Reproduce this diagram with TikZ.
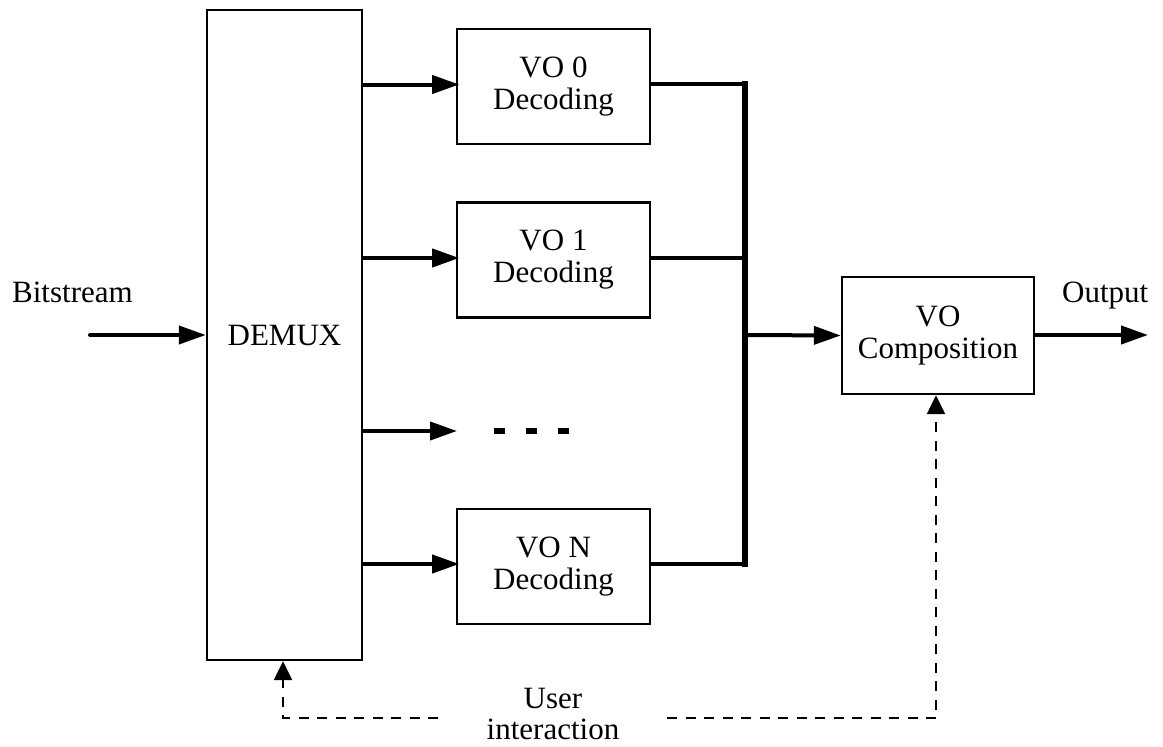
\documentclass[tikz,border=0pt]{standalone}
\usepackage{fontspec}
\setmainfont{Liberation Serif}
\usetikzlibrary{arrows.meta}
\begin{document}
\begin{tikzpicture}[x=1pt,y=-1pt,
  every node/.style={font=\fontsize{31}{32}\selectfont, inner sep=0pt},
  blk/.style={draw, line width=2.4pt, minimum width=193pt, minimum height=115pt, align=center},
  arr/.style={line width=4pt, line cap=round, -{Triangle[length=27pt,width=18pt]}},
  link/.style={line width=4pt, line cap=round},
  bus/.style={line width=5.5pt},
  fb/.style={line width=2.4pt, dash pattern=on 10pt off 8.5pt, -{Triangle[length=19pt,width=18pt]}},
  lbl/.style={anchor=base, align=center}]
\useasboundingbox (0,0) rectangle (1163,747);
% blocks
\node[draw, line width=2.4pt, minimum width=155pt, minimum height=650pt] (demux) at (284.5,335) {DEMUX};
\node[blk] (vo0) at (553.5,86.5) {VO 0\\Decoding};
\node[blk] (vo1) at (553.5,260) {VO 1\\Decoding};
\node[blk] (von) at (553.5,566.5) {VO N\\Decoding};
\node[blk, minimum width=192pt, minimum height=117pt] (comp) at (938,335.5) {VO\\Composition};
% labels
\node[lbl, anchor=base west] (bits) at (12,302) {Bitstream};
\node[lbl, anchor=base west] (out) at (1062,302) {Output};
\node[lbl] (user) at (553,708) {User};
\node[lbl] (inter) at (553,739) {interaction};
% coordinates
\coordinate (bin) at (90,335);
\coordinate (oend) at (1148,335);
\coordinate (bustop) at (745,84);
\coordinate (busbot) at (745,564);
\coordinate (busmid) at (745,335);
\coordinate (dotsin) at (457,431);
\coordinate (fbl) at (438,718);
\coordinate (fbr) at (667,718);
% input / output
\draw[arr] (bin) -- (demux.west |- bin);
\draw[arr] (comp.east |- oend) -- (oend);
% demux to decoders
\draw[arr] (demux.east |- vo0.west) ++(0,-2) -- ++(96,0);
\draw[arr] (demux.east |- vo1.west) ++(0,-2) -- ++(96,0);
\draw[arr] (demux.east |- dotsin) -- (dotsin);
\draw[arr] (demux.east |- von.west) ++(0,-2.5) -- ++(96,0);
% ellipsis dashes
\draw[line width=6pt, dash pattern=on 11pt off 21pt] (494,431) -- (570,431);
% decoders to bus
\draw[link] (vo0.east |- bustop) -- (bustop);
\draw[link] (vo1.east |- 0,258) -- (745,258);
\draw[link] (von.east |- busbot) -- (busbot);
\draw[bus, line cap=rect] (bustop) -- (busbot);
\draw[arr] (busmid) -- (comp.west);
% user interaction feedback
\draw[fb] (fbl) -- (283,718) -- (demux.south -| 283,0);
\draw[fb] (fbr) -- (936,718) -- (comp.south -| 936,0);
\end{tikzpicture}
\end{document}
